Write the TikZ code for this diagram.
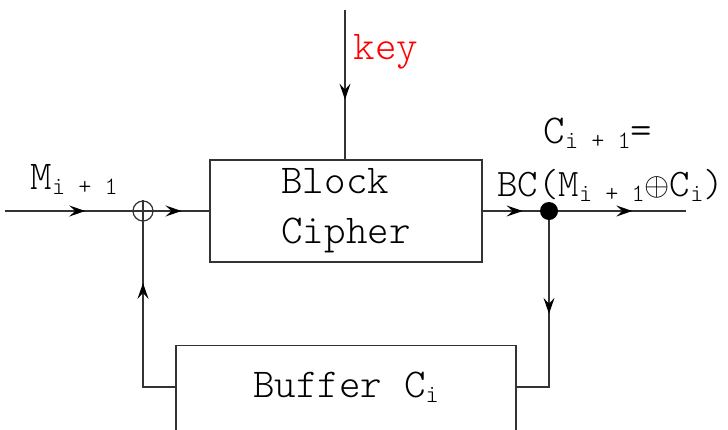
\documentclass[tikz,border=0pt]{standalone}
\usepackage{fontspec}
\setmonofont{Latin Modern Mono Light}
\usepackage{tikz}
\usetikzlibrary{arrows.meta,decorations.markings}
\definecolor{wiregrey}{HTML}{333333}
\definecolor{keyred}{HTML}{FF0000}
\newcommand{\sbs}[1]{\raisebox{-5pt}{\fontsize{25}{25}\selectfont #1}}
\newcommand{\xorsym}{\raisebox{1pt}{\scalebox{1.3}{$\oplus$}}}

\begin{document}
\begin{tikzpicture}[x=1pt, y=-1pt,
  font=\ttfamily\fontsize{41}{50}\selectfont,
  box/.style={draw=wiregrey, line width=1.2pt, inner sep=0pt, align=left},
  wire/.style={draw=wiregrey, line width=1.2pt},
  flow/.style={postaction=decorate, decoration={markings,
      mark=at position #1 with {\arrow[black]{Stealth[length=16pt,width=11pt,inset=6pt]}}}},
]
\useasboundingbox (0,0) rectangle (728,429);

% blocks
\node[box, minimum width=272pt, minimum height=102pt] (bc) at (346,211) {Block\\Cipher};
\node[box, minimum width=340pt, minimum height=110pt, anchor=north] (buf) at (346,345) {};
\node (buftxt) at (346,387) {Buffer C\sbs{i}};

% junctions
\node[circle, draw=wiregrey, line width=1.2pt, minimum size=20pt, inner sep=0pt] (xor) at (143,211) {};
\draw[wire] (xor.north) -- (xor.south) (xor.west) -- (xor.east);
\node[circle, fill=black, minimum size=18pt, inner sep=0pt] (tap) at (549,211) {};

\coordinate (msgin) at (5,211);
\coordinate (ctout) at (686,211);
\coordinate (keyin) at (345,10);

% labels
\node[anchor=west, text=keyred] (key) at (350,52) {key};
\node[anchor=base west] (mlab) at (27,189) {M\sbs{i + 1}};
\node[anchor=base west] (clab) at (540,143) {C\sbs{i + 1}=};
\node[anchor=base west, inner xsep=0pt, font=\ttfamily\fontsize{39}{48}\selectfont] (bclab) at (497,196)
  {BC(M\sbs{i + 1}\xorsym C\sbs{i})};

% wires
\draw[wire, flow=0.63] (msgin) -- (xor);
\draw[wire, flow=0.5] (xor) -- (bc);
\draw[wire, flow=0.7] (bc) -- (tap);
\draw[wire, flow=0.58] (tap) -- (ctout);
\draw[wire, flow=0.6] (keyin) -- (bc.north -| keyin);
\draw[wire, flow=0.47] (tap) |- (buftxt -| buf.east);
\draw[wire, flow=0.69] (buftxt -| buf.west) -| (xor);
\end{tikzpicture}
\end{document}
